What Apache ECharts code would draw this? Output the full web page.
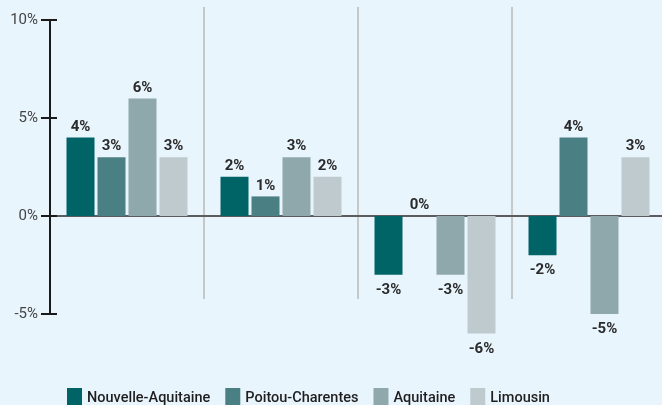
<!DOCTYPE html>
<html><head><meta charset="utf-8">
<script src="https://cdn.jsdelivr.net/npm/echarts@6/dist/echarts.min.js"></script>
<style>html,body{margin:0;padding:0;background:#e9f5fd;overflow:hidden;}#c{width:666px;height:405px;}</style>
</head><body><div id="c"></div>
<script>
const categories = ['Groupe 1', 'Groupe 2', 'Groupe 3', 'Groupe 4'];
const seriesNames = ['Nouvelle-Aquitaine', 'Poitou-Charentes', 'Aquitaine', 'Limousin'];
const nouvelleAquitaine = [4, 2, -3, -2];
const poitouCharentes = [3, 1, 0, 4];
const aquitaine = [6, 3, -3, -5];
const limousin = [3, 2, -6, 3];
const yTicks = [-5, 0, 5, 10];
const colors = ['#006466', '#4a8084', '#8ea8ab', '#bfcacf'];

const values = [nouvelleAquitaine, poitouCharentes, aquitaine, limousin];
const chart = echarts.init(document.getElementById('c'));
const font = 'Roboto, "Noto Sans", sans-serif';
const yAxisBase = {type: 'value', min: yTicks[0], max: yTicks[yTicks.length-1], interval: 5, position: 'left'};
chart.setOption({
  backgroundColor: '#e9f5fd',
  animation: false,
  textStyle: {fontFamily: font},
  grid: {left: 50, top: 20, right: 0, height: 294},
  legend: {
    bottom: -8, left: 62, itemWidth: 15, itemHeight: 20, itemGap: 15,
    icon: 'rect',
    textStyle: {fontSize: 14.5, color: '#1e1e1e', fontWeight: 500, fontFamily: font},
    data: seriesNames
  },
  xAxis: {
    type: 'category', data: categories,
    axisLine: {onZero: true, lineStyle: {color: '#5c5c5c', width: 2}},
    axisTick: {show: false}, axisLabel: {show: false}, splitLine: {show: false}
  },
  yAxis: [
    Object.assign({}, yAxisBase, {
      axisLine: {show: true, lineStyle: {color: '#1a1a1a', width: 2}},
      axisTick: {show: true, length: 9, lineStyle: {color: '#1a1a1a', width: 2}},
      axisLabel: {formatter: v => v + '%', color: '#444', fontSize: 15, margin: 12, fontFamily: font},
      splitLine: {show: false}
    }),
    Object.assign({}, yAxisBase, {
      axisLine: {show: false},
      axisTick: {show: true, inside: true, length: 7, lineStyle: {color: '#1a1a1a', width: 2}},
      axisLabel: {show: false}, splitLine: {show: false}
    })
  ],
  series: seriesNames.map((name, i) => ({
    name, type: 'bar', clip: false, data: values[i].map(v => ({
      value: v,
      label: {position: v < 0 ? 'bottom' : 'top', distance: v < 0 ? 8 : 3}
    })),
    barWidth: 28, barGap: '10.7%',
    itemStyle: {color: colors[i]},
    label: {show: true, formatter: p => p.value + '%', fontWeight: 'bold', fontSize: 15, color: '#2a2a2a', fontFamily: font}
  }))
});
// category separators
const c = categories.map(k => chart.convertToPixel({xAxisIndex: 0}, k));
const graphics = [];
for (let i = 0; i < c.length - 1; i++) {
  const x = Math.round((c[i] + c[i+1]) / 2);
  graphics.push({type: 'line', shape: {x1: x, y1: 7, x2: x, y2: 299}, style: {stroke: '#b9b9b9', lineWidth: 1.5}, z: 0});
}
chart.setOption({graphic: graphics});
</script></body></html>
